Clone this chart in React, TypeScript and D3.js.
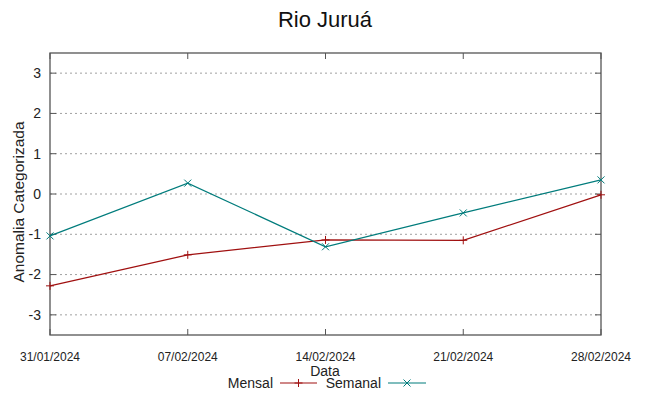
import React, { useEffect, useRef } from 'react';
import * as d3 from 'd3';

const dates = ['31/01/2024', '07/02/2024', '14/02/2024', '21/02/2024', '28/02/2024'];
const mensal = [-2.28, -1.51, -1.14, -1.15, -0.02];
const semanal = [-1.04, 0.27, -1.31, -0.47, 0.35];
const yTicks = [-3, -2, -1, 0, 1, 2, 3];

const RED = '#a01010';
const TEAL = '#007c7c';

export default function App() {
    const svgRef = useRef<SVGSVGElement>(null);

    useEffect(() => {
        const svg = d3.select(svgRef.current);
        svg.selectAll('*').remove();

        const W = 649, H = 396;
        const margin = { top: 53, right: 48, bottom: 61, left: 50 };
        const width = W - margin.left - margin.right;
        const height = H - margin.top - margin.bottom;

        svg.attr('width', W).attr('height', H)
            .style('display', 'block')
            .style('font-family', '"Liberation Sans", Arial, sans-serif');

        svg.append('rect').attr('width', W).attr('height', H).attr('fill', '#fff');

        const g = svg.append('g').attr('transform', `translate(${margin.left},${margin.top})`);

        const parse = d3.timeParse('%d/%m/%Y');
        const x = d3.scaleTime()
            .domain([parse(dates[0])!, parse(dates[dates.length - 1])!])
            .range([0, width]);
        const y = d3.scaleLinear().domain([-3.5, 3.5]).range([height, 0]);

        // grid
        yTicks.forEach(t => {
            g.append('line')
                .attr('x1', 0).attr('x2', width)
                .attr('y1', y(t)).attr('y2', y(t))
                .attr('stroke', '#a0a0a0')
                .attr('stroke-width', 1)
                .attr('stroke-dasharray', '2,3');
        });

        // frame
        g.append('rect')
            .attr('x', 0).attr('y', 0)
            .attr('width', width).attr('height', height)
            .attr('fill', 'none')
            .attr('stroke', '#555')
            .attr('stroke-width', 1.3);

        // y ticks (inward, mirrored)
        yTicks.forEach(t => {
            g.append('line').attr('x1', 0).attr('x2', 6).attr('y1', y(t)).attr('y2', y(t)).attr('stroke', '#555');
            g.append('line').attr('x1', width - 6).attr('x2', width).attr('y1', y(t)).attr('y2', y(t)).attr('stroke', '#555');
            g.append('text')
                .attr('x', -9).attr('y', y(t))
                .attr('dy', '0.35em')
                .attr('text-anchor', 'end')
                .style('font-size', '14px')
                .attr('fill', '#222')
                .text(t);
        });

        // x ticks
        dates.forEach(s => {
            const px = x(parse(s)!);
            g.append('line').attr('x1', px).attr('x2', px).attr('y1', height).attr('y2', height - 6).attr('stroke', '#555');
            g.append('line').attr('x1', px).attr('x2', px).attr('y1', 0).attr('y2', 6).attr('stroke', '#555');
            g.append('text')
                .attr('x', px).attr('y', height + 26)
                .attr('text-anchor', 'middle')
                .style('font-size', '12px')
                .style('font-family', '"Liberation Sans Narrow", "Liberation Sans", sans-serif')
                .attr('fill', '#222')
                .text(s);
        });

        const line = d3.line<number>()
            .x((_, i) => x(parse(dates[i])!))
            .y(d => y(d));

        g.append('path').datum(mensal)
            .attr('fill', 'none').attr('stroke', RED).attr('stroke-width', 1.2).attr('d', line);
        g.append('path').datum(semanal)
            .attr('fill', 'none').attr('stroke', TEAL).attr('stroke-width', 1.2).attr('d', line);

        const plus = (sel: any, cx: number, cy: number, c: string) => {
            sel.append('path')
                .attr('d', `M${cx - 4},${cy}H${cx + 4}M${cx},${cy - 4}V${cy + 4}`)
                .attr('stroke', c).attr('stroke-width', 1);
        };
        const cross = (sel: any, cx: number, cy: number, c: string) => {
            sel.append('path')
                .attr('d', `M${cx - 3.5},${cy - 3.5}L${cx + 3.5},${cy + 3.5}M${cx - 3.5},${cy + 3.5}L${cx + 3.5},${cy - 3.5}`)
                .attr('stroke', c).attr('stroke-width', 1);
        };

        mensal.forEach((v, i) => plus(g, x(parse(dates[i])!), y(v), RED));
        semanal.forEach((v, i) => cross(g, x(parse(dates[i])!), y(v), TEAL));

        // title
        svg.append('text')
            .attr('x', 325).attr('y', 27)
            .attr('text-anchor', 'middle')
            .style('font-size', '22px')
            .attr('fill', '#111')
            .text('Rio Juruá');

        // axis labels
        svg.append('text')
            .attr('transform', `translate(24,${margin.top + height / 2 + 8}) rotate(-90)`)
            .attr('text-anchor', 'middle')
            .style('font-size', '15.5px')
            .attr('fill', '#222')
            .text('Anomalia Categorizada');

        svg.append('text')
            .attr('x', 325).attr('y', 376)
            .attr('text-anchor', 'middle')
            .style('font-size', '14px')
            .attr('fill', '#222')
            .text('Data');

        // legend
        const ly = 383;
        svg.append('text')
            .attr('x', 273).attr('y', ly + 5)
            .attr('text-anchor', 'end')
            .style('font-size', '14px')
            .attr('fill', '#222')
            .text('Mensal');
        svg.append('line').attr('x1', 280).attr('x2', 317).attr('y1', ly).attr('y2', ly).attr('stroke', RED).attr('stroke-width', 1.2);
        plus(svg, 298.5, ly, RED);

        svg.append('text')
            .attr('x', 381).attr('y', ly + 5)
            .attr('text-anchor', 'end')
            .style('font-size', '14px')
            .attr('fill', '#222')
            .text('Semanal');
        svg.append('line').attr('x1', 388).attr('x2', 426).attr('y1', ly).attr('y2', ly).attr('stroke', TEAL).attr('stroke-width', 1.2);
        cross(svg, 407, ly, TEAL);
    }, []);

    return (
        <div style={{ position: 'absolute', left: 0, top: 0 }}>
            <svg ref={svgRef} />
        </div>
    );
}
